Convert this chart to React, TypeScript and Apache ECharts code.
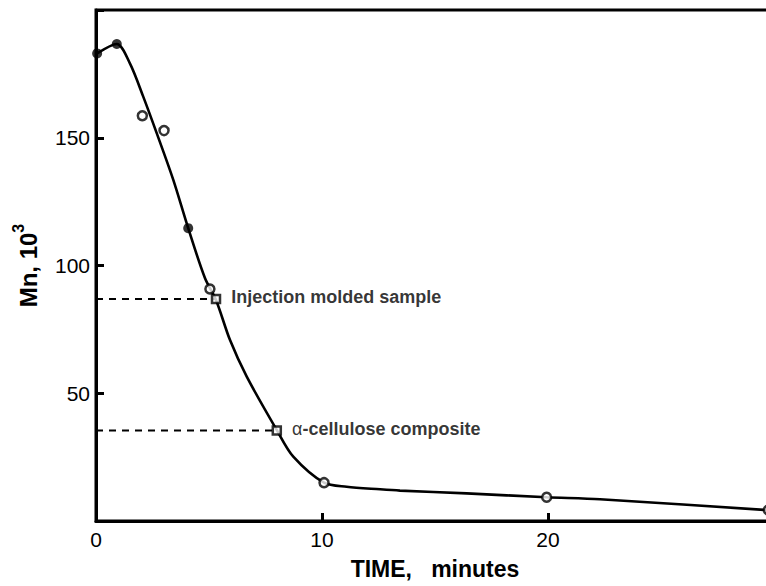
import React, { useEffect, useRef } from "react";
import * as echarts from "echarts";

// Smooth curve drawn through the data (TIME in minutes, Mn in 10^3)
const curveX = [0.05, 0.92, 1.5, 2.09, 2.69, 3.42, 4.08, 4.82, 5.31, 5.93, 6.67, 8.0, 8.73, 10.09, 11.09, 12.57, 13.45, 16.4, 19.94, 22.3, 29.65, 30];
const curveY = [183, 186.7, 179.1, 166.1, 151.7, 133.5, 114.6, 95.1, 86.5, 70.8, 56.5, 35.6, 25.2, 15.0, 13.4, 12.4, 11.9, 10.8, 9.3, 8.5, 4.3, 4.1];

// Filled circle measurements
const filledX = [0.05, 0.92, 4.08];
const filledY = [183, 186.7, 114.6];

// Open circle measurements
const openX = [2.05, 3.01, 5.04, 10.09, 19.94, 29.75];
const openY = [158.6, 152.8, 90.8, 15.0, 9.3, 4.3];

// Sample markers (squares) with labels
const sampleX = [5.31, 8.0];
const sampleY = [86.9, 35.4];
const sampleLabels = ["Injection molded sample", "α-cellulose composite"];

const xTicks = [0, 10, 20];
const yTicks = [50, 100, 150];

export default function App() {
  const ref = useRef<HTMLDivElement>(null);
  useEffect(() => {
    const chart = echarts.init(ref.current!, null, { renderer: "svg" });
    const font = "'Liberation Sans', Arial, Helvetica, sans-serif";
    const black = "#000";
    const dashed = sampleX.map((sx, i) => ({
      type: "line",
      data: [[0, sampleY[i]], [sx, sampleY[i]]],
      symbol: "none",
      lineStyle: { color: black, width: 2, type: [7, 6] },
      z: 1,
      silent: true,
    }));
    chart.setOption({
      animation: false,
      grid: {
        left: 96, right: -8, top: 10, bottom: 65,
        outerBoundsMode: "none",
        containLabel: false,
        show: true, borderColor: black, borderWidth: 3, backgroundColor: "transparent",
      },
      xAxis: {
        type: "value",
        min: 0,
        max: 30,
        interval: 10,
        name: "TIME,   minutes",
        nameLocation: "middle",
        nameGap: 36,
        nameTextStyle: { fontSize: 23, fontWeight: "bold", color: black, fontFamily: font },
        axisLine: { lineStyle: { color: black, width: 3 } },
        axisTick: { inside: true, length: 8, lineStyle: { color: black, width: 3 } },
        axisLabel: {
          margin: 8,
          fontSize: 21,
          color: black,
          fontFamily: font,
          formatter: (v: number) => (xTicks.includes(v) ? String(v) : ""),
        },
        splitLine: { show: false },
      },
      yAxis: {
        type: "value",
        min: 0,
        max: 200,
        interval: 50,
        name: "{a|Mn, 10}{b|3}",
        nameLocation: "middle",
        nameGap: 56,
        nameTextStyle: {
          color: black,
          fontFamily: font,
          rich: {
            a: { fontSize: 24, fontWeight: "bold", color: black, fontFamily: font, lineHeight: 30, verticalAlign: "bottom" },
            b: { fontSize: 16, fontWeight: "bold", color: black, fontFamily: font, lineHeight: 30, verticalAlign: "top" },
          },
        },
        axisLine: { show: true, lineStyle: { color: black, width: 3 } },
        axisTick: { inside: true, length: 8, lineStyle: { color: black, width: 3 } },
        axisLabel: {
          margin: 6,
          fontSize: 21,
          color: black,
          fontFamily: font,
          formatter: (v: number) => (yTicks.includes(v) ? String(v) : ""),
        },
        splitLine: { show: false },
      },
      series: [
        ...dashed,
        {
          type: "line",
          data: curveX.map((x, i) => [x, curveY[i]]),
          smooth: 0.3,
          symbol: "none",
          lineStyle: { color: black, width: 2.6 },
          z: 2,
        },
        {
          type: "scatter",
          data: filledX.map((x, i) => [x, filledY[i]]),
          symbol: "circle",
          symbolSize: 10,
          itemStyle: { color: black },
          z: 3,
        },
        {
          type: "scatter",
          data: openX.map((x, i) => [x, openY[i]]),
          symbol: "circle",
          symbolSize: 9,
          itemStyle: { color: "#fff", borderColor: black, borderWidth: 2.5 },
          z: 3,
        },
        {
          type: "scatter",
          data: sampleX.map((x, i) => ({
            value: [x, sampleY[i]],
            label: {
              show: true,
              position: "right",
              distance: 10,
              offset: [0, -2],
              formatter: sampleLabels[i].startsWith("α")
                ? "{g|α}{t|" + sampleLabels[i].slice(1) + "}"
                : "{t|" + sampleLabels[i] + "}",
              rich: {
                g: { fontSize: 18, fontWeight: "normal", color: black, fontFamily: font },
                t: { fontSize: 18, fontWeight: "bold", color: black, fontFamily: font },
              },
            },
          })),
          symbol: "rect",
          symbolSize: 8,
          itemStyle: { color: "#fff", borderColor: black, borderWidth: 2.5 },
          z: 4,
        },
      ],
    });
    return () => chart.dispose();
  }, []);
  return <div ref={ref} style={{ position: "absolute", left: 0, top: 0, width: 766, height: 586 }} />;
}
